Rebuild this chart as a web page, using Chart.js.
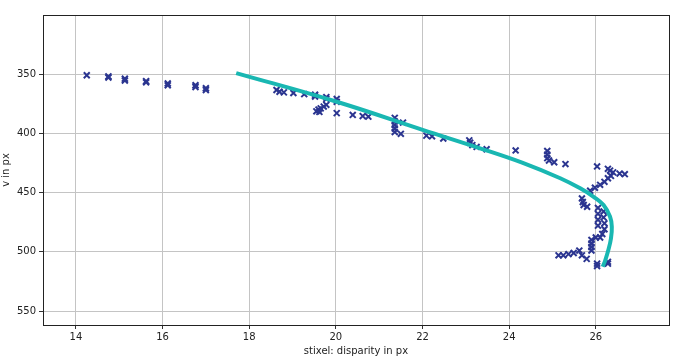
<!DOCTYPE html>
<html><head><meta charset="utf-8">
<script src="https://cdn.jsdelivr.net/npm/chart.js@4/dist/chart.umd.min.js"></script>
<style>html,body{margin:0;padding:0;background:#fff}canvas{display:block}</style>
</head><body><canvas id="c" width="686" height="359"></canvas>
<script>
const xTicks = [14, 16, 18, 20, 22, 24, 26];
const yTicks = [350, 400, 450, 500, 550];
const stixelDisparity = [14.25,14.75,14.75,15.13,15.13,15.62,15.62,16.12,16.12,16.76,16.76,17.0,17.0,
 18.63,18.7,18.8,19.02,19.27,19.52,19.52,19.78,19.78,20.02,20.02,19.55,19.6,19.65,19.72,19.78,19.62,20.02,20.39,20.62,20.75,
 21.36,21.36,21.36,21.36,21.36,21.5,21.55,22.09,22.22,22.48,23.08,23.1,23.15,23.25,23.48,24.15,24.88,24.88,24.88,24.92,25.04,25.3,
 26.03,26.28,26.33,26.4,26.55,26.67,26.35,26.28,26.2,26.1,25.98,25.87,25.68,25.7,25.72,25.8,
 26.05,26.05,26.05,26.05,26.18,26.18,26.2,26.2,26.15,26.1,26.0,25.9,25.9,25.9,25.9,
 25.14,25.25,25.37,25.49,25.62,25.68,25.79,26.03,26.03,26.28,26.28];
const stixelV = [351,352,353,354,355.5,356,357,358,359.5,359.5,361,362,363.5,
 363.5,365,365.5,366,367,367.5,369,369.5,371,371,373.5,381.5,380,379,377.5,376,382,383,384.5,385.5,386,
 387,390,393,396,399,400.5,391,402,402.5,404.5,406,408,410,411.5,413.5,414.5,415,418,421,423,424.5,426,
 428,430,431.5,433,434,434.5,436,438,441,443.5,446,448.5,455,458,460.5,462,
 463,468,473,478,466,471,476,481,485,488,488,490,493,496,499,
 503,503,502,501,499,503,506,510,512,508.5,510];
const fitDisparity = [17.70,20.02,22.02,23.33,24.30,25.18,25.64,25.95,26.18,26.33,26.37,26.35,26.29,26.22,26.16];
const fitV = [349.2,373.4,397.3,412.7,424.8,438.0,446.5,453.6,460.6,470.5,479.0,488.8,498.6,507.0,512.7];

const font = {family: "'DejaVu Sans', sans-serif", size: 10};
const frame = {id:'frame', afterDraw(ch){const a=ch.chartArea,c=ch.ctx;c.save();c.strokeStyle='#222';c.lineWidth=1;c.strokeRect(a.left+0.5,a.top+0.5,a.right-a.left,a.bottom-a.top);c.restore();}};

new Chart(document.getElementById('c'), {
  type: 'scatter',
  data: {datasets: [
    {label:'stixels', data: stixelDisparity.map((x,i)=>({x, y: stixelV[i]})),
     pointStyle:'crossRot', radius:4.2, borderColor:'#2b3590', borderWidth:2, backgroundColor:'#2b3590', order:2},
    {label:'fit', type:'line', data: fitDisparity.map((x,i)=>({x, y: fitV[i]})),
     borderColor:'#19b7b2', borderWidth:4, pointRadius:0, tension:0.4, fill:false, order:1}
  ]},
  options: {
    responsive:false, animation:false, devicePixelRatio:1,
    layout:{padding:{top:15,right:17,left:0,bottom:0}},
    plugins:{legend:{display:false}, tooltip:{enabled:false}},
    scales:{
      x:{type:'linear', min:13.24, max:27.69,
        afterBuildTicks(s){s.ticks = xTicks.map(v=>({value:v}));},
        afterFit(s){s.height = 34;},
        ticks:{font, color:'#222', padding:2, maxRotation:0},
        grid:{color:'#c4c4c4', tickLength:4, tickColor:'#333'},
        border:{display:false},
        title:{display:true, text:'stixel: disparity in px', font, color:'#222', padding:{top:0,bottom:2}}},
      y:{type:'linear', reverse:true, min:300.2, max:561.8,
        afterBuildTicks(s){s.ticks = yTicks.map(v=>({value:v}));},
        afterFit(s){s.width = 43;},
        ticks:{font, color:'#222', padding:3},
        grid:{color:'#c4c4c4', tickLength:4, tickColor:'#333'},
        border:{display:false},
        title:{display:true, text:'v in px', font, color:'#222', padding:{top:0,bottom:0}}}
    }
  },
  plugins:[frame]
});
</script></body></html>
